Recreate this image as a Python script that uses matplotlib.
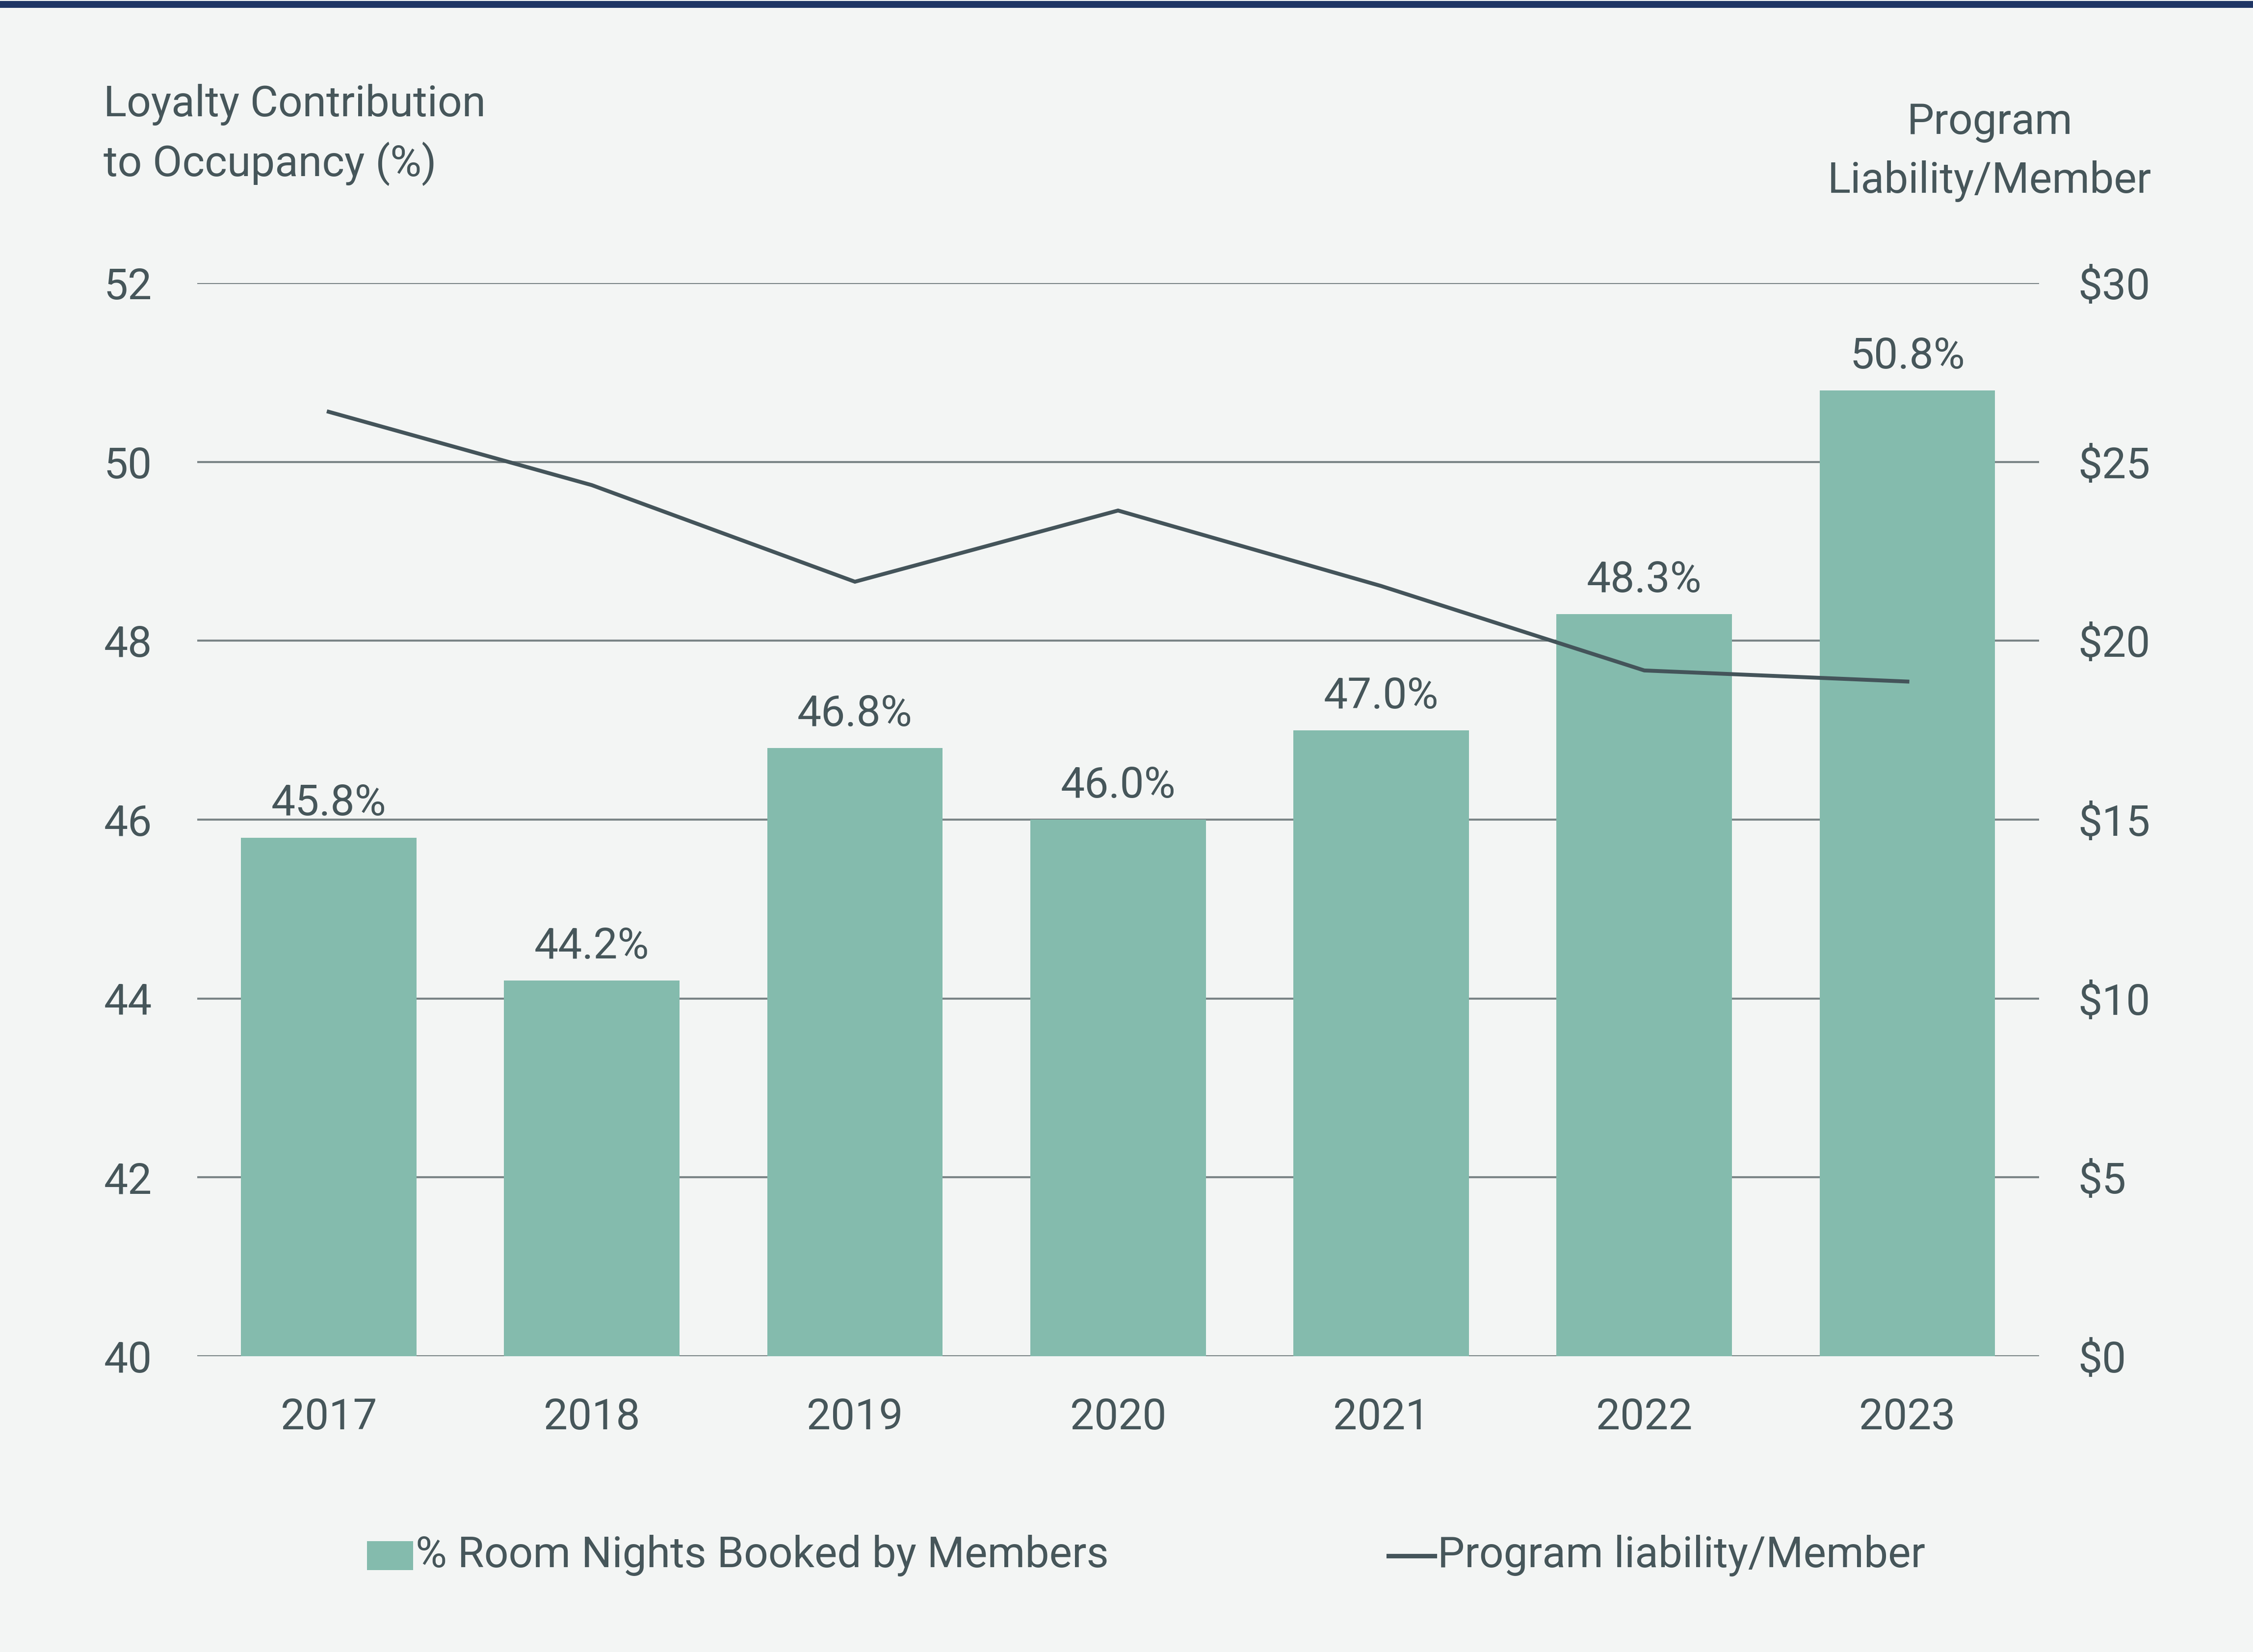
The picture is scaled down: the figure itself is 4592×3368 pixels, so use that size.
import matplotlib
matplotlib.use("Agg")
import matplotlib.pyplot as plt
from matplotlib.patches import Rectangle
from matplotlib.lines import Line2D

years = ["2017", "2018", "2019", "2020", "2021", "2022", "2023"]
room_nights_pct = [45.8, 44.2, 46.8, 46.0, 47.0, 48.3, 50.8]
liability_per_member = [26.4, 24.35, 21.65, 23.64, 21.53, 19.17, 18.86]
left_ticks = [40, 42, 44, 46, 48, 50, 52]
right_ticks = [0, 5, 10, 15, 20, 25, 30]
right_tick_labels = ["$0", "$5", "$10", "$15", "$20", "$25", "$30"]

BG = "#f3f5f4"
BAR = "#84bbad"
TXT = "#46565a"
LINE = "#44545a"
GRID = "#7a8486"
NAVY = "#1e3564"
FS = 21

plt.rcParams["font.family"] = ["Roboto", "DejaVu Sans"]

fig = plt.figure(figsize=(4592 / 300, 3368 / 300), dpi=300, facecolor=BG)
ax = fig.add_axes([0.0875, 0.179, 0.8175, 0.6497])
ax.set_facecolor(BG)

x = list(range(len(years)))
bars = ax.bar(x, room_nights_pct, width=0.667, color=BAR, zorder=2)
for xi, v in zip(x, room_nights_pct):
    ax.annotate(f"{v:.1f}%", (xi, v), xytext=(0, 6.5), textcoords="offset points",
                ha="center", va="bottom", fontsize=FS, color=TXT, zorder=3)

ax.set_xlim(-0.5, len(years) - 0.5)
ax.set_ylim(40, 52)
ax.set_yticks(left_ticks)
ax.set_yticklabels([str(t) for t in left_ticks])
ax.set_xticks(x)
ax.set_xticklabels(years)
ax.grid(axis="y", color=GRID, linewidth=1.0, zorder=0)
ax.set_axisbelow(True)
ax.tick_params(axis="both", length=0, labelsize=FS, colors=TXT)
ax.tick_params(axis="y", pad=22)
ax.tick_params(axis="x", pad=20)
for s in ax.spines.values():
    s.set_visible(False)

ax2 = ax.twinx()
ax2.plot(x, liability_per_member, color=LINE, linewidth=1.9, zorder=4,
         solid_joinstyle="miter")
ax2.set_ylim(0, 30)
ax2.set_yticks(right_ticks)
ax2.set_yticklabels(right_tick_labels)
ax2.tick_params(axis="y", length=0, labelsize=FS, colors=TXT, pad=19)
for s in ax2.spines.values():
    s.set_visible(False)

# axis titles
fig.text(0.046, 0.9365, "Loyalty Contribution", ha="left", va="center", fontsize=FS, color=TXT)
fig.text(0.046, 0.9009, "to Occupancy (%)", ha="left", va="center", fontsize=FS, color=TXT)
fig.text(0.8831, 0.926, "Program", ha="center", va="center", fontsize=FS, color=TXT)
fig.text(0.8831, 0.8904, "Liability/Member", ha="center", va="center", fontsize=FS, color=TXT)

# legend
fig.patches.append(Rectangle((0.1628, 0.0496), 0.0205, 0.0174, transform=fig.transFigure,
                             facecolor=BAR, edgecolor="none"))
fig.text(0.1845, 0.0583, "% Room Nights Booked by Members", ha="left", va="center",
         fontsize=FS, color=TXT)
fig.lines.append(Line2D([0.6162, 0.6367], [0.0583, 0.0583], transform=fig.transFigure,
                        color=LINE, linewidth=2.2))
fig.text(0.638, 0.0583, "Program liability/Member", ha="left", va="center",
         fontsize=FS, color=TXT)

# top rule
fig.patches.append(Rectangle((0, 1 - 16 / 3368), 1, 14 / 3368, transform=fig.transFigure,
                             facecolor=NAVY, edgecolor="none"))

fig.savefig("out.png", dpi=300, facecolor=BG)
